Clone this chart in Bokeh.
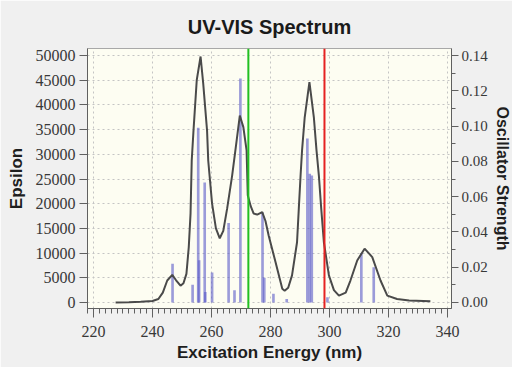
from bokeh.plotting import figure
from bokeh.models import Range1d, LinearAxis, SingleIntervalTicker, Span, PrintfTickFormatter
from bokeh.embed import file_html
from bokeh.resources import INLINE

# Simulated spectrum (epsilon)
spec_nm = [227.5, 232, 236, 240, 242, 243.5, 245, 246.7, 248, 249.5, 250.5, 251.5, 252.3, 252.9,
           253.3, 253.9, 255, 256.3, 257.2, 258.5, 258.9, 260.2, 261.5, 262.8, 264, 265.3, 267,
           268.1, 269.6, 270.8, 271.9, 272.3, 273.3, 274.3, 275.5, 277.2, 278.3, 279.4, 281.7,
           284, 284.8, 286, 287.3, 289, 289.6, 290.2, 290.7, 291.6, 293.2, 294.7, 295.6, 296.4,
           297.2, 298.1, 299.8, 301.5, 303.2, 305.5, 307.1, 309.4, 311.9, 314.5, 317.3, 319.6,
           322.9, 327, 334.2]
spec_eps = [0, 50, 150, 300, 700, 2000, 4450, 5600, 4500, 3400, 3900, 5800, 11200, 18000,
            28700, 34800, 45000, 49800, 44300, 34800, 28700, 20000, 15000, 13000, 14500, 19000, 25700,
            30800, 37850, 35500, 30800, 21700, 19500, 18000, 17800, 18300, 16500, 13500, 8200,
            2800, 2400, 3000, 5500, 12200, 19000, 25700, 30800, 37500, 44600, 37500, 30800, 25700,
            19000, 12200, 5500, 2500, 1400, 2000, 4450, 8500, 10900, 9200, 4450, 1400,
            700, 400, 250]

# Excitations (oscillator strength)
bar_nm = [246.8, 253.6, 255.5, 255.8, 257.7, 257.9, 260.2, 265.8, 267.8, 269.8, 277.3, 277.9,
          281.0, 285.5, 292.5, 293.3, 294.0, 299.3, 310.8, 315.0]
bar_f = [0.022, 0.010, 0.099, 0.024, 0.068, 0.006, 0.017, 0.045, 0.007, 0.127, 0.051, 0.014,
         0.005, 0.002, 0.093, 0.073, 0.072, 0.003, 0.028, 0.020]

# Cursor lines
cursor_green_nm = 272.5
cursor_red_nm = 298.3

x_lo, x_hi = 217.97, 341.36
eps_lo, eps_hi = -1215, 51420
eps_per_f = 50000 / 0.14

p = figure(width=512, height=367, frame_width=364, frame_height=260,
           output_backend="svg", toolbar_location=None,
           x_range=Range1d(x_lo, x_hi), y_range=Range1d(eps_lo, eps_hi),
           min_border_left=87, min_border_right=61, min_border_top=48, min_border_bottom=59,
           title="UV-VIS Spectrum")
p.extra_y_ranges = {"osc": Range1d(eps_lo / eps_per_f, eps_hi / eps_per_f)}

p.background_fill_color = "#fdfdf2"
p.border_fill_color = "#f0f0f0"
p.outline_line_color = "#a8a8a8"

p.title.text_font = "Liberation Sans"
p.title.text_font_size = "20px"
p.title.text_font_style = "bold"
p.title.text_color = "#1a1a1a"
p.title.align = "center"
p.title.standoff = 21

tick_font = "Liberation Sans Narrow"

xa = p.xaxis[0]
xa.ticker = SingleIntervalTicker(interval=20, num_minor_ticks=10)
xa.axis_label = "Excitation Energy (nm)"
ya = p.yaxis[0]
ya.ticker = SingleIntervalTicker(interval=5000, num_minor_ticks=0)
ya.axis_label = "Epsilon"

ra = LinearAxis(y_range_name="osc", ticker=SingleIntervalTicker(interval=0.02, num_minor_ticks=2),
                formatter=PrintfTickFormatter(format="%.2f"), axis_label="Oscillator Strength")
p.add_layout(ra, "right")

for ax in (xa, ya, ra):
    ax.axis_line_color = "#606060"
    ax.major_tick_line_color = "#606060"
    ax.minor_tick_line_color = "#606060"
    ax.major_tick_in = 0
    ax.minor_tick_in = 0
    ax.major_label_text_font = tick_font
    ax.major_label_text_font_size = "16px"
    ax.major_label_text_color = "#383838"
    ax.axis_label_text_font = "Liberation Sans"
    ax.axis_label_text_font_style = "bold"
    ax.axis_label_text_color = "#1e1e1e"

xa.major_tick_out = 9
xa.minor_tick_out = 5
xa.major_label_standoff = 8
xa.axis_label_standoff = 3
xa.axis_label_text_font_size = "17px"

ya.major_tick_out = 8
ya.major_label_standoff = 4
ya.axis_label_standoff = 7
ya.axis_label_text_font_size = "17px"

ra.major_tick_out = 7
ra.minor_tick_out = 4
ra.major_label_standoff = 3
ra.axis_label_standoff = 3
ra.major_label_text_font_size = "15px"
ra.axis_label_text_font_size = "16px"

for g in (p.xgrid[0], p.ygrid[0]):
    g.grid_line_color = "#c4c4c4"
    g.grid_line_dash = "2 3"
    g.grid_line_width = 1

p.vbar(x=bar_nm, top=bar_f, bottom=0, width=0.9, y_range_name="osc",
       fill_color="#5a5ac8", fill_alpha=0.6, line_color=None)
p.line(spec_nm, spec_eps, line_color="#4a4a4a", line_width=2)

for xv, col in ((cursor_green_nm, "#22c022"), (cursor_red_nm, "#e52222")):
    p.add_layout(Span(location=xv, dimension="height", line_color=col, line_width=2))

open("out.html", "w").write(file_html(p, INLINE))
